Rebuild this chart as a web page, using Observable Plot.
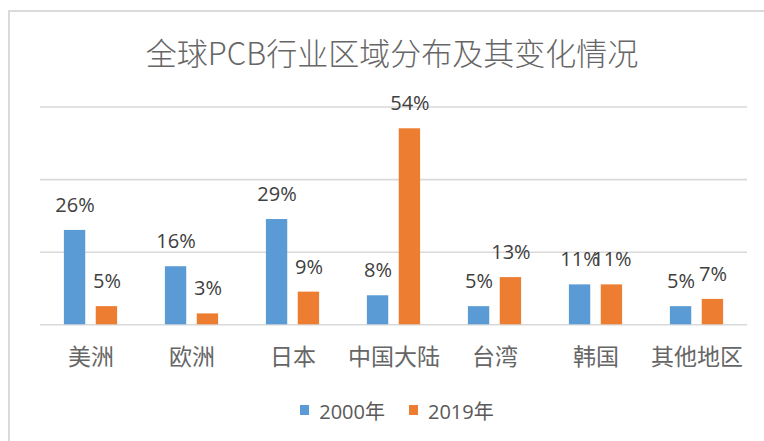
<!DOCTYPE html>
<html>
<head>
<meta charset="utf-8">
<script src="https://cdn.jsdelivr.net/npm/d3@7"></script>
<script src="https://cdn.jsdelivr.net/npm/@observablehq/plot@0.6"></script>
<style>
  html, body { margin: 0; padding: 0; background: #fff; overflow: hidden; width: 764px; height: 441px; }
  #frame { position: absolute; left: 8px; top: 10px; width: 820px; height: 500px; border: 2px solid #dadada; box-sizing: border-box; pointer-events: none; }
  #title { height: 90px; box-sizing: border-box; padding-top: 36px; padding-left: 20px; text-align: center;
           font-family: "Noto Sans CJK SC", sans-serif; font-weight: 300; font-size: 31px; line-height: 32px; color: #666666; }
  #chart svg { display: block; }
  #legend { display: flex; justify-content: center; align-items: center; padding-left: 30px; height: 40px;
            font-family: "Open Sans", "Noto Sans CJK SC", sans-serif; font-size: 20px; color: #595959; }
  .item { display: flex; align-items: center; margin: 0 12px; }
  .sw { width: 9px; height: 10px; margin-right: 10px; }
</style>
</head>
<body>
<div id="frame"></div>
<div id="title">全球PCB行业区域分布及其变化情况</div>
<div id="chart"></div>
<div id="legend"></div>
<script>
const categories = ["美洲", "欧洲", "日本", "中国大陆", "台湾", "韩国", "其他地区"];
const seriesNames = ["2000年", "2019年"];
const values2000 = [26, 16, 29, 8, 5, 11, 5];
const values2019 = [5, 3, 9, 54, 13, 11, 7];
const gridTicks = [0, 20, 40, 60];
const colors = ["#5B9BD5", "#ED7D31"];

const data = categories.flatMap((c, i) => [
  {region: c, series: seriesNames[0], value: values2000[i]},
  {region: c, series: seriesNames[1], value: values2019[i]}
]);

const chart = Plot.plot({
  width: 764,
  height: 300,
  marginLeft: 39,
  marginRight: 17,
  marginTop: 16.5,
  marginBottom: 65.7,
  fx: {domain: categories, padding: 0, axis: null, label: null},
  x: {domain: seriesNames, paddingInner: 0.33, paddingOuter: 0.75, axis: null, round: false},
  y: {domain: [0, 60], axis: null},
  color: {domain: seriesNames, range: colors},
  marks: [
    Plot.ruleY(gridTicks, {stroke: "#d9d9d9", strokeWidth: 1.6}),
    Plot.barY(data, {fx: "region", x: "series", y: "value", fill: "series"}),
    Plot.text(data, {fx: "region", x: "series", y: "value", text: d => d.value + "%", dy: -25,
      fontSize: 20, fill: "#404040", fontFamily: "Open Sans"}),
    Plot.axisFx({anchor: "bottom", tickSize: 0, tickPadding: 24, fontSize: 23, fill: "#666666",
      fontFamily: "Noto Sans CJK SC", label: null})
  ]
});
document.getElementById("chart").appendChild(chart);

const legend = document.getElementById("legend");
seriesNames.forEach((s, i) => {
  const item = document.createElement("div");
  item.className = "item";
  const sw = document.createElement("span");
  sw.className = "sw";
  sw.style.background = colors[i];
  const t = document.createElement("span");
  t.textContent = s;
  item.appendChild(sw);
  item.appendChild(t);
  legend.appendChild(item);
});
</script>
</body>
</html>
